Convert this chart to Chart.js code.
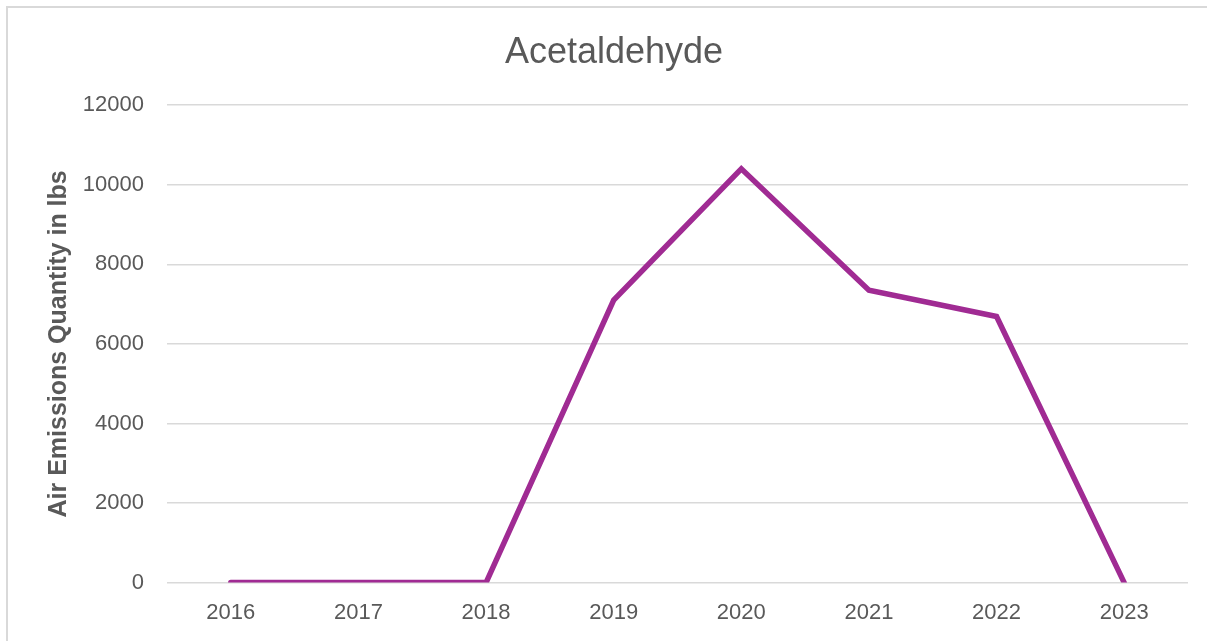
<!DOCTYPE html>
<html>
<head>
<meta charset="utf-8">
<script src="https://cdn.jsdelivr.net/npm/chart.js@4.4.1/dist/chart.umd.min.js"></script>
<style>
  html, body { margin: 0; padding: 0; background: #ffffff; overflow: hidden; }
  #frame { position: absolute; left: 6px; top: 6px; width: 1220px; height: 700px; border: 2px solid #d9d9d9; box-sizing: border-box; }
  #wrap { position: absolute; left: 0; top: 0; width: 1207px; height: 641px; }
</style>
</head>
<body>
<div id="frame"></div>
<div id="wrap"><canvas id="chart" width="1207" height="641"></canvas></div>
<script>
// Annual acetaldehyde air emissions (lbs)
const years = ['2016', '2017', '2018', '2019', '2020', '2021', '2022', '2023'];
const emissions = [0, 0, 0, 7100, 10400, 7350, 6690, 0];
const yTicks = [0, 2000, 4000, 6000, 8000, 10000, 12000];

const textColor = '#595959';
const fontFamily = '"Liberation Sans", Arial, sans-serif';

new Chart(document.getElementById('chart'), {
  type: 'line',
  data: {
    labels: years,
    datasets: [{
      label: 'Acetaldehyde',
      data: emissions,
      borderColor: '#A02B93',
      backgroundColor: '#A02B93',
      borderWidth: 5.5,
      pointRadius: 0,
      pointHoverRadius: 0,
      tension: 0,
      fill: false,
      borderCapStyle: 'round',
      borderJoinStyle: 'miter'
    }]
  },
  options: {
    responsive: false,
    animation: false,
    layout: { padding: { left: 40, right: 19, top: 0, bottom: -2 } },
    plugins: {
      legend: { display: false },
      tooltip: { enabled: false },
      title: {
        display: true,
        text: 'Acetaldehyde',
        color: textColor,
        font: { family: fontFamily, size: 36, weight: 'normal' },
        padding: { top: 31, bottom: 31 }
      }
    },
    scales: {
      x: {
        offset: true,
        grid: { display: false, drawTicks: false },
        border: { display: false },
        ticks: {
          color: textColor,
          font: { family: fontFamily, size: 22 },
          padding: 17,
          maxRotation: 0
        }
      },
      y: {
        min: 0,
        max: 12000,
        afterBuildTicks: (scale) => {
          scale.ticks = yTicks.map(v => ({ value: v }));
        },
        afterFit: (scale) => { scale.width = 127; },
        grid: { color: '#d9d9d9', lineWidth: 1.5, drawTicks: false },
        border: { display: false },
        ticks: {
          color: textColor,
          font: { family: fontFamily, size: 22 },
          padding: 23,
          callback: (v) => String(v)
        },
        title: {
          display: true,
          text: 'Air Emissions Quantity in lbs',
          color: textColor,
          font: { family: fontFamily, size: 25, weight: 'bold' },
          padding: { top: 4, bottom: 0 }
        }
      }
    }
  }
});
</script>
</body>
</html>
